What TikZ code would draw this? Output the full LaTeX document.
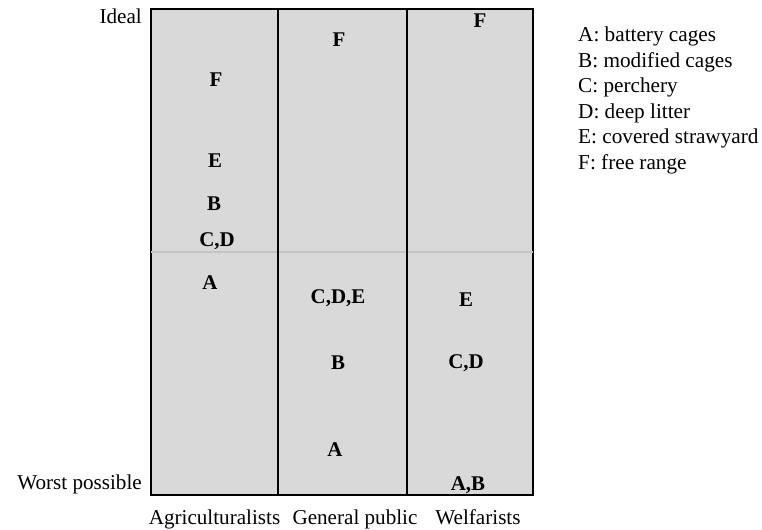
\documentclass[tikz,border=0pt]{standalone}
\usepackage{fontspec}
\setmainfont{Liberation Serif}
\definecolor{panel}{HTML}{D9D9D9}
\definecolor{midline}{HTML}{C4C4C4}
\tikzset{
  col/.style={fill=panel, draw=black, line width=2.6bp},
  rank/.style={font=\fontsize{21}{21}\selectfont\bfseries, inner sep=0pt},
  lbl/.style={font=\fontsize{21.2}{21.2}\selectfont, inner sep=0pt},
  leg/.style={font=\fontsize{21.3}{21.3}\selectfont, inner sep=0pt, anchor=base west}
}
\begin{document}
\begin{tikzpicture}[x=1bp,y=-1bp]
\useasboundingbox (0,0) rectangle (762,530);
% columns
\draw[col] (151,9) rectangle (278,495);
\draw[col] (278,9) rectangle (407,495);
\draw[col] (407,9) rectangle (533,495);
\coordinate (ml) at (151,252);
\coordinate (mr) at (533,252);
\draw[midline, line width=2bp] (ml) -- (mr);
\draw[line width=2.6bp] (278,9) -- (278,495);
\draw[line width=2.6bp] (407,9) -- (407,495);
% axis labels
\node[lbl, anchor=base east] (ideal) at (142,24) {Ideal};
\node[lbl, anchor=base east] (worst) at (142,489) {Worst possible};
\node[lbl, anchor=base] (g1) at (214.5,524) {Agriculturalists};
\node[lbl, anchor=base] (g2) at (355,524) {General public};
\node[lbl, anchor=base] (g3) at (478,524) {Welfarists};
% column 1
\node[rank] (a1F) at (216,80) {F};
\node[rank] (a1E) at (215,161) {E};
\node[rank] (a1B) at (214,204) {B};
\node[rank] (a1CD) at (217,241) {C,D};
\node[rank] (a1A) at (210,283) {A};
% column 2
\node[rank] (a2F) at (339,40) {F};
\node[rank] (a2CDE) at (338,298) {C,D,E};
\node[rank] (a2B) at (338,363) {B};
\node[rank] (a2A) at (335,450) {A};
% column 3
\node[rank] (a3F) at (480,21) {F};
\node[rank] (a3E) at (466,300) {E};
\node[rank] (a3CD) at (466,363) {C,D};
\node[rank] (a3AB) at (468,485) {A,B};
% legend
\node[leg] (lA) at (578,42) {A: battery cages};
\node[leg] (lB) at (578,67.5) {B: modified cages};
\node[leg] (lC) at (578,93) {C: perchery};
\node[leg] (lD) at (578,118.5) {D: deep litter};
\node[leg] (lE) at (578,144) {E: covered strawyard};
\node[leg] (lF) at (578,169.5) {F: free range};
\end{tikzpicture}
\end{document}
